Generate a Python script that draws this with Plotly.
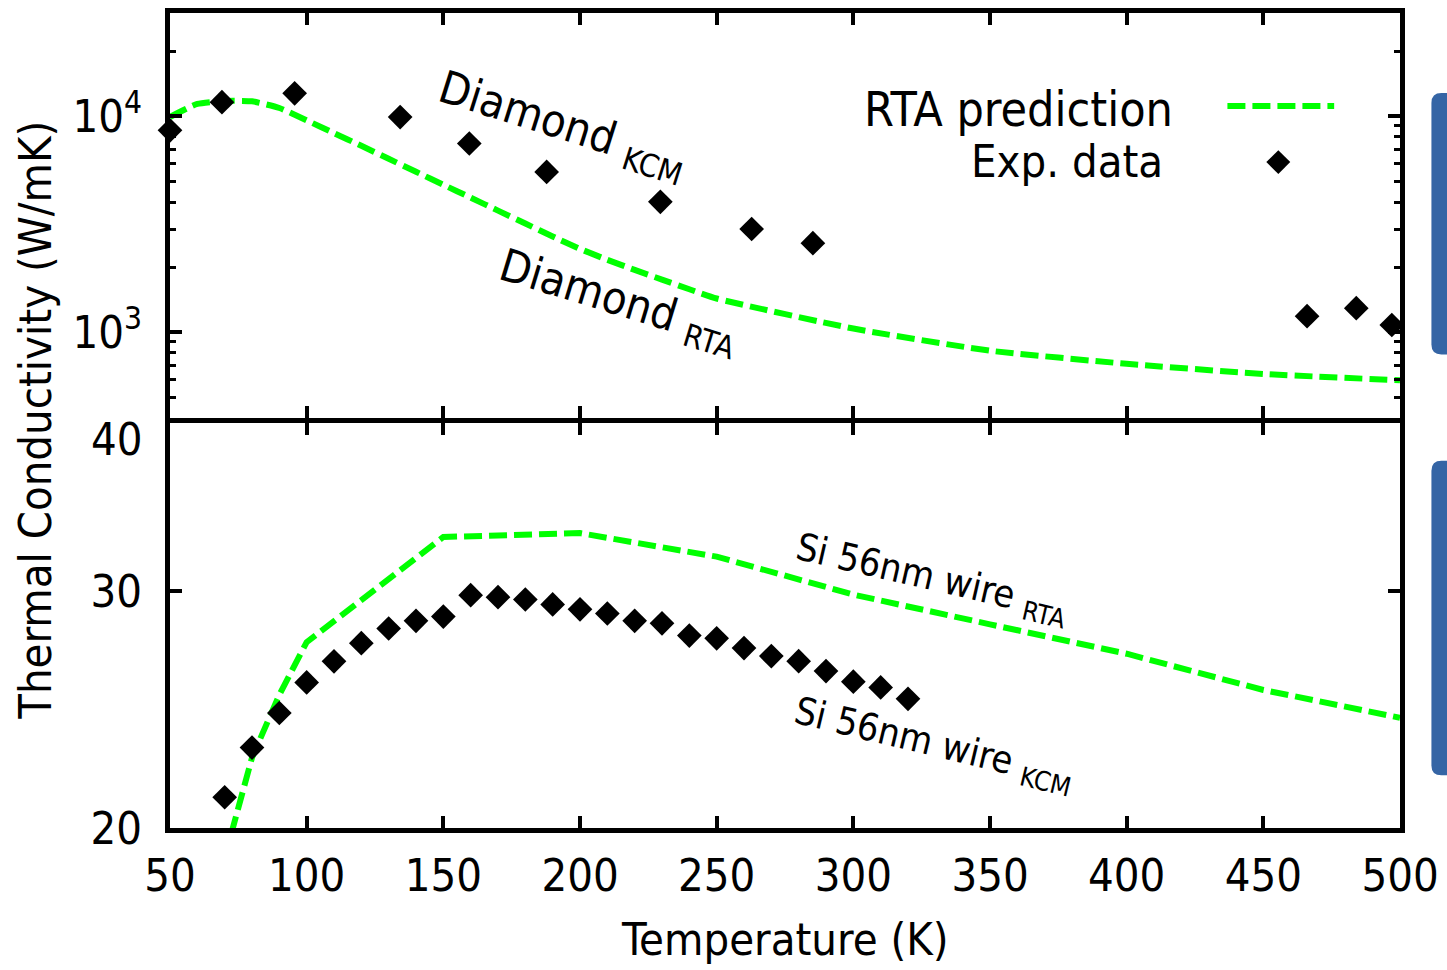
import math
import plotly.graph_objects as go

# ---- data -------------------------------------------------------------
# Diamond, RTA prediction (W/mK)
t_dia_rta = [50, 60, 70, 80, 90, 100, 110, 120, 130, 140, 150, 160, 170, 180,
             190, 200, 210, 220, 230, 240, 250, 300, 350, 400, 450, 500]
k_dia_rta = [9900, 11380, 11750, 11700, 10900, 9550, 8340, 7280, 6340, 5520,
             4810, 4190, 3650, 3180, 2770, 2427, 2160, 1940, 1750, 1578, 1430,
             1038, 820, 713, 640, 598]

# Diamond, experimental data (W/mK)
t_dia_exp = [50, 69, 95.6, 134.2, 159.5, 187.8, 229.4, 262.8, 285.2, 466, 484, 497]
k_dia_exp = [8590, 11590, 12740, 9895, 7465, 5510, 4010, 3000, 2580, 1185, 1290, 1078]

# Si 56 nm wire, RTA prediction (W/mK)
t_si_rta = [70, 80, 90, 100, 150, 200, 250, 300, 350, 400, 450, 500]
k_si_rta = [19.0, 22.56, 25.12, 27.49, 32.91, 33.13, 31.82, 29.82, 28.34, 26.95,
            25.33, 24.15]

# Si 56 nm wire, experimental data (W/mK)
t_si_exp = [70, 80, 90, 100, 110, 120, 130, 140, 150, 160, 170, 180, 190, 200,
            210, 220, 230, 240, 250, 260, 270, 280, 290, 300, 310, 320]
k_si_exp = [21.08, 22.95, 24.35, 25.66, 26.60, 27.44, 28.14, 28.51, 28.72, 29.79,
            29.69, 29.57, 29.32, 29.08, 28.87, 28.51, 28.39, 27.80, 27.67, 27.21,
            26.84, 26.61, 26.16, 25.69, 25.44, 24.95]

x_ticks = [50, 100, 150, 200, 250, 300, 350, 400, 450, 500]
top_major = [1000, 10000]
top_major_text = ["10<sup>3</sup>", "10<sup>4</sup>"]
top_minor = [500, 600, 700, 800, 900, 2000, 3000, 4000, 5000, 6000, 7000, 8000,
             9000, 20000]
bot_ticks = [20, 30]
bot_tick_text = ["20", "30"]

# ---- layout geometry (pixels) ------------------------------------------
W, H = 1447, 970
L, R, T, B = 170, 1403, 8, 828
FONT = "DejaVu Sans Condensed, DejaVu Sans"
FS = 45
GREEN = "#00ff00"
DASH = "18px,7px"
LW = 6


def px(x):
    return (x - L) / (R - L)


def py(y):
    return (B - y) / (B - T)


fig = go.Figure()

fig.add_trace(go.Scatter(x=t_dia_rta, y=k_dia_rta, xaxis="x2", yaxis="y2",
                         mode="lines",
                         line=dict(color=GREEN, width=LW, dash=DASH,
                                   shape="spline", smoothing=0.5),
                         showlegend=False))
fig.add_trace(go.Scatter(x=t_dia_exp, y=k_dia_exp, xaxis="x2", yaxis="y2",
                         mode="markers", cliponaxis=False,
                         marker=dict(symbol="diamond", size=19, color="black"),
                         showlegend=False))
fig.add_trace(go.Scatter(x=t_si_rta, y=k_si_rta, xaxis="x", yaxis="y",
                         mode="lines", line=dict(color=GREEN, width=LW, dash=DASH),
                         showlegend=False))
fig.add_trace(go.Scatter(x=t_si_exp, y=k_si_exp, xaxis="x", yaxis="y",
                         mode="markers", cliponaxis=False,
                         marker=dict(symbol="diamond", size=19, color="black"),
                         showlegend=False))

axis_common = dict(showline=True, linewidth=5, linecolor="black", mirror="ticks",
                   ticks="inside", ticklen=12, tickwidth=4, tickcolor="black",
                   showgrid=False, zeroline=False,
                   tickfont=dict(family=FONT, size=FS, color="black"))

split_top = py(415.5)
split_bot = py(420.5)

fig.update_layout(
    width=W, height=H, autosize=False,
    margin=dict(l=L, r=W - R, t=T, b=H - B, pad=0),
    paper_bgcolor="white", plot_bgcolor="white",
    font=dict(family=FONT, size=FS, color="black"),
    xaxis=dict(axis_common, range=[50, 500], domain=[0, 1], anchor="y",
               tickvals=x_ticks, ticklabelstandoff=4),
    xaxis2=dict(axis_common, range=[50, 500], domain=[0, 1], anchor="y2",
                matches="x", tickvals=x_ticks, showticklabels=False),
    yaxis=dict(axis_common, type="log", domain=[0, split_bot], anchor="x",
               range=[math.log10(20), math.log10(40)],
               tickvals=bot_ticks, ticktext=bot_tick_text, ticklabelstandoff=14),
    yaxis2=dict(axis_common, type="log", domain=[split_top, 1], anchor="x2",
                range=[math.log10(400), math.log10(30000)],
                tickvals=top_major, ticktext=top_major_text, ticklabelstandoff=14,
                minor=dict(tickvals=top_minor, ticks="inside", ticklen=6,
                           tickwidth=3, tickcolor="black", showgrid=False)),
)

ann = []


def text(x, y, s, angle=0, xanchor="center", size=FS):
    ann.append(dict(x=px(x), y=py(y), xref="paper", yref="paper", text=s,
                    showarrow=False, textangle=angle, xanchor=xanchor,
                    yanchor="middle", font=dict(family=FONT, size=size,
                                                color="black")))


# axis titles and the lone upper tick label of the lower panel
text(786, 940, "Temperature (K)")
text(35, 418, "Thermal Conductivity (W/mK)", angle=-90)
text(145, 437, "40", xanchor="right")

# curve labels
text(563, 122, "Diamond <sub>KCM</sub>", angle=17.5)
text(620, 299, "Diamond <sub>RTA</sub>", angle=17)
text(934, 578, "Si 56nm wire <sub>RTA</sub>", angle=13, size=38)
text(936, 745, "Si 56nm wire <sub>KCM</sub>", angle=13.5, size=38)

# key
text(1177, 105, "RTA prediction", xanchor="right", size=48)
text(1167, 157, "Exp. data", xanchor="right")

fig.update_layout(annotations=ann)

shapes = []
# key samples
shapes.append(dict(type="line", xref="paper", yref="paper",
                   x0=px(1230), x1=px(1337), y0=py(101.5), y1=py(101.5),
                   line=dict(color=GREEN, width=LW, dash=DASH)))
cx, cy, hd = 1281, 158, 12
shapes.append(dict(type="path", xref="paper", yref="paper",
                   path=(f"M {px(cx - hd)} {py(cy)} L {px(cx)} {py(cy - hd)} "
                         f"L {px(cx + hd)} {py(cy)} L {px(cx)} {py(cy + hd)} Z"),
                   fillcolor="black", line=dict(width=0)))


def tab(y0, y1, x0=1434.5, x1=1470, r=10):
    return (f"M {px(x1)} {py(y0)} L {px(x0 + r)} {py(y0)} "
            f"Q {px(x0)} {py(y0)} {px(x0)} {py(y0 + r)} "
            f"L {px(x0)} {py(y1 - r)} "
            f"Q {px(x0)} {py(y1)} {px(x0 + r)} {py(y1)} "
            f"L {px(x1)} {py(y1)} Z")


for y0, y1 in [(88.5, 351.5), (458.5, 775)]:
    shapes.append(dict(type="path", xref="paper", yref="paper", path=tab(y0, y1),
                       fillcolor="#3565a5", line=dict(width=0), layer="above"))

fig.update_layout(shapes=shapes)

fig.write_html("out.html")
